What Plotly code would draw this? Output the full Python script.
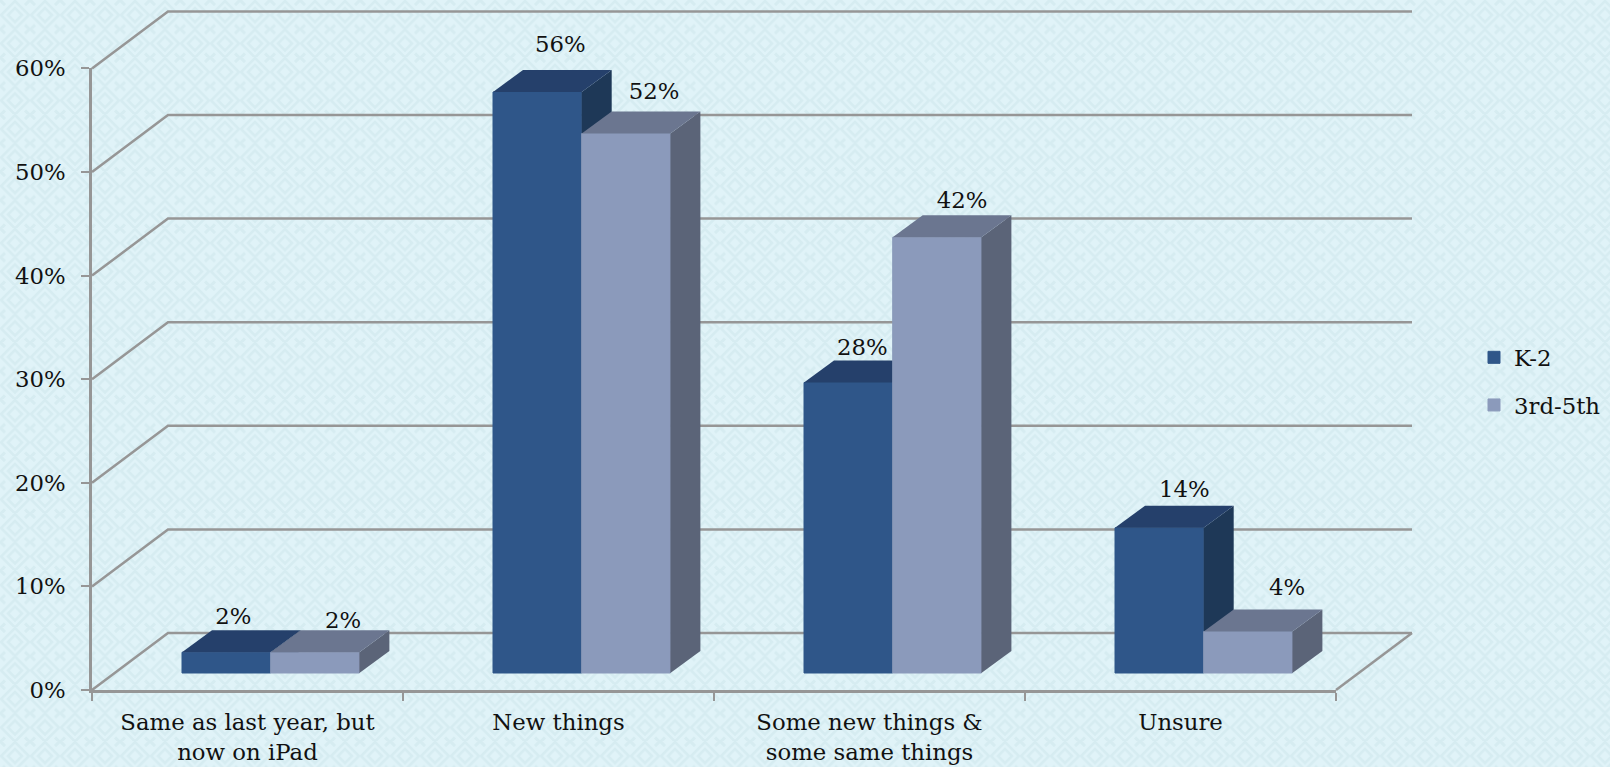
import base64
import plotly.graph_objects as go

categories = ["Same as last year, but<br>now on iPad", "New things",
              "Some new things &<br>some same things", "Unsure"]
series_names = ["K-2", "3rd-5th"]
k2_values = [2, 56, 28, 14]
g35_values = [2, 52, 42, 4]
y_ticks = [0, 10, 20, 30, 40, 50, 60]
y_tick_labels = ["0%", "10%", "20%", "30%", "40%", "50%", "60%"]

# geometry (pixels)
W, H = 1610, 767
X0, XW = 92, 311          # axis origin and category width
Y0, YS = 690, 10.36       # zero line and px per percent
BAR_YS = 10.375
WALL_DX, WALL_DY = 76, 57 # depth of the floor
BAR_OFF, BAR_W = 90, 88.7
LIFT = 17
BAR_DX, BAR_DY = 30, 22
FONT = "DejaVu Serif"
FS = 22.8
GRID = "#969696"
COL = {"K-2": ("#2F5689", "#25406B", "#1E3857"),
       "3rd-5th": ("#8B9ABB", "#6B7690", "#5B6478")}
k2_label_shift = [(7, -34), (23, -46), (14, -33), (25, -36)]
g35_label_shift = [(28, -30), (28, -40), (25, -35), (39, -42)]

ux = lambda px: px / XW
uy = lambda px: px / YS

tile = ('<path d="M15 1 L29 15 L15 29 L1 15 Z M15 8 L22 15 L15 22 L8 15 Z" fill="none" '
        'stroke="#D6ECF1" stroke-width="2.6"/>'
        '<path d="M0 0 L5 5 M30 0 L25 5 M0 30 L5 25 M30 30 L25 25" stroke="#D6ECF1" stroke-width="3"/>')
svg = (f'<svg xmlns="http://www.w3.org/2000/svg" width="{W}" height="{H}">'
       f'<defs><pattern id="p" width="30" height="28.5" patternUnits="userSpaceOnUse">'
       f'{tile}</pattern></defs><rect width="{W}" height="{H}" fill="#E0F3F8"/>'
       f'<rect width="{W}" height="{H}" fill="url(#p)"/></svg>')
bg = "data:image/svg+xml;base64," + base64.b64encode(svg.encode()).decode()

fig = go.Figure()
n_cat = len(categories)

# real axes (carry ticks and labels)
fig.add_trace(go.Scatter(x=categories, y=[0] * n_cat, mode="none", showlegend=False,
                         hoverinfo="skip", xaxis="x", yaxis="y"))

# walls
wall = dict(xaxis="x2", yaxis="y2", hoverinfo="skip", showlegend=False)
wall_dx, wall_dy = ux(WALL_DX), uy(WALL_DY)
for t in y_ticks:
    fig.add_trace(go.Scatter(x=[0, wall_dx, n_cat + wall_dx], y=[t, t + wall_dy, t + wall_dy],
                             mode="lines", line=dict(color=GRID, width=2.5), **wall))
fig.add_trace(go.Scatter(x=[n_cat, n_cat + wall_dx], y=[0, wall_dy], mode="lines",
                         line=dict(color=GRID, width=2.5), **wall))

# bars: each series has its own overlaid layer so that the second hides the first one's side
bw, off = ux(BAR_W), ux(BAR_OFF)
dx, dy = ux(BAR_DX), uy(BAR_DY)
base = uy(LIFT)
hts = lambda vals: [v * BAR_YS / YS for v in vals]
for j, (name, vals, xa, ya) in enumerate(zip(series_names, [k2_values, g35_values],
                                             ["x3", "x4"], ["y3", "y4"])):
    front, top, side = COL[name]
    ov = dict(xaxis=xa, yaxis=ya, hoverinfo="skip", showlegend=False)
    for i, h in enumerate(hts(vals)):
        l = i + off + j * bw
        r = l + bw
        t = base + h
        fig.add_trace(go.Scatter(x=[r, r + dx, r + dx, r, r], y=[base, base + dy, t + dy, t, base],
                                 fill="toself", fillcolor=side, mode="none", **ov))
        fig.add_trace(go.Scatter(x=[l, l + dx, r + dx, r, l], y=[t, t + dy, t + dy, t, t],
                                 fill="toself", fillcolor=top, mode="none", **ov))
    fig.add_trace(go.Bar(x=[i + off + j * bw + bw / 2 for i in range(n_cat)],
                         y=hts(vals), base=base, width=bw, name=name, legendgroup=name,
                         marker=dict(color=front, line=dict(color=front, width=1)),
                         xaxis=xa, yaxis=ya, hoverinfo="skip"))

# data labels
for j, (vals, shifts) in enumerate(zip([k2_values, g35_values], [k2_label_shift, g35_label_shift])):
    fig.add_trace(go.Scatter(
        x=[i + off + j * bw + bw / 2 + ux(s[0]) for i, s in enumerate(shifts)],
        y=[base + h - uy(s[1]) for h, s in zip(hts(vals), shifts)],
        text=[f"{v}%" for v in vals], mode="text", textposition="middle center",
        textfont=dict(family=FONT, size=FS, color="#111111"), cliponaxis=False,
        xaxis="x4", yaxis="y4", hoverinfo="skip", showlegend=False))

axis_line = dict(showline=True, linecolor=GRID, linewidth=2.5, ticks="outside", tickcolor=GRID,
                 tickwidth=2, ticklen=8, showgrid=False, zeroline=False, fixedrange=True,
                 tickfont=dict(family=FONT, size=FS, color="#111111"))
full_x = dict(visible=False, fixedrange=True, showgrid=False, zeroline=False, domain=[0, 1],
              range=[ux(-X0), ux(W - X0)])
full_y = dict(visible=False, fixedrange=True, showgrid=False, zeroline=False, domain=[0, 1],
              range=[uy(Y0 - H), uy(Y0)])

fig.update_layout(
    width=W, height=H, autosize=False, showlegend=True, barmode="overlay",
    margin=dict(l=0, r=0, t=0, b=0, pad=0, autoexpand=False),
    paper_bgcolor="#E0F3F8", plot_bgcolor="rgba(0,0,0,0)",
    font=dict(family=FONT, size=FS, color="#111111"),
    xaxis=dict(type="category", categoryorder="array", categoryarray=categories,
               tickson="boundaries", range=[-0.5, n_cat - 0.5], ticklabelstandoff=10,
               domain=[X0 / W, (X0 + XW * n_cat) / W], anchor="y", **axis_line),
    yaxis=dict(range=[0, 60], tickvals=y_ticks, ticktext=y_tick_labels, ticklabelstandoff=11,
               domain=[(H - Y0) / H, (H - Y0 + 60 * YS) / H], anchor="x", **axis_line),
    xaxis2=dict(anchor="y2", **full_x), yaxis2=dict(anchor="x2", **full_y),
    xaxis3=dict(anchor="y3", overlaying="x2", **full_x),
    yaxis3=dict(anchor="x3", overlaying="y2", **full_y),
    xaxis4=dict(anchor="y4", overlaying="x2", **full_x),
    yaxis4=dict(anchor="x4", overlaying="y2", **full_y),
    legend=dict(x=1474 / W, y=1 - 336 / H, yanchor="top", xanchor="left",
                bgcolor="rgba(0,0,0,0)", font=dict(family=FONT, size=FS),
                traceorder="grouped", tracegroupgap=15, itemwidth=30),
    images=[dict(source=bg, xref="paper", yref="paper", x=0, y=1, sizex=1, sizey=1,
                 sizing="stretch", xanchor="left", yanchor="top", layer="below")],
)
fig.write_html("out.html", config=dict(displayModeBar=False),
               post_script="document.body.style.margin='0';document.body.style.overflow='hidden';")
